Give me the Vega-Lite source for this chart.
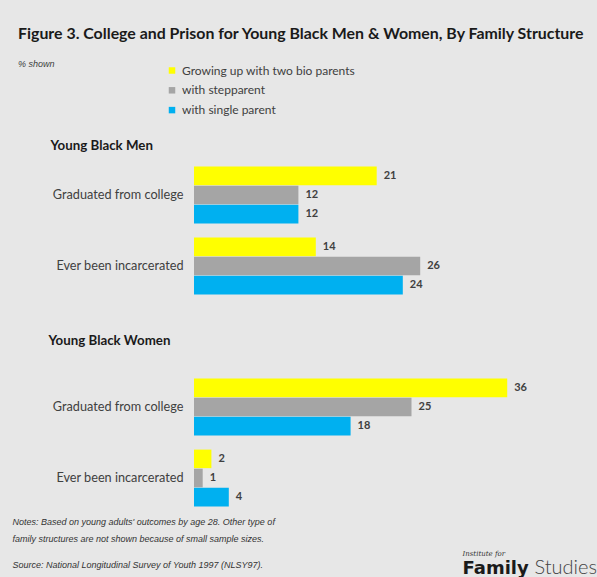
{
  "$schema": "https://vega.github.io/schema/vega-lite/v6.json",
  "background": "#e7e7e7",
  "padding": {"left": 12, "top": 25.5, "right": 0, "bottom": 0},
  "config": {"view": {"stroke": null}, "font": "Lato"},
  "bounds": "flush",
  "spacing": 70,
  "title": {
    "text": "Figure 3. College and Prison for Young Black Men & Women, By Family Structure",
    "subtitle": "% shown",
    "anchor": "start",
    "frame": "group",
    "dx": -176,
    "offset": -4.5,
    "font": "Lato",
    "fontSize": 15.9,
    "fontWeight": "bold",
    "color": "#1a1a1a",
    "subtitleFont": "Liberation Sans",
    "subtitleFontSize": 9,
    "subtitleFontStyle": "italic",
    "subtitleColor": "#404040",
    "subtitlePadding": 18
  },
  "data": {
    "values": [
      {"sex": "Men", "outcome": "Graduated from college", "structure": "Growing up with two bio parents", "value": 21},
      {"sex": "Men", "outcome": "Graduated from college", "structure": "with stepparent", "value": 12},
      {"sex": "Men", "outcome": "Graduated from college", "structure": "with single parent", "value": 12},
      {"sex": "Men", "outcome": "Ever been incarcerated", "structure": "Growing up with two bio parents", "value": 14},
      {"sex": "Men", "outcome": "Ever been incarcerated", "structure": "with stepparent", "value": 26},
      {"sex": "Men", "outcome": "Ever been incarcerated", "structure": "with single parent", "value": 24},
      {"sex": "Women", "outcome": "Graduated from college", "structure": "Growing up with two bio parents", "value": 36},
      {"sex": "Women", "outcome": "Graduated from college", "structure": "with stepparent", "value": 25},
      {"sex": "Women", "outcome": "Graduated from college", "structure": "with single parent", "value": 18},
      {"sex": "Women", "outcome": "Ever been incarcerated", "structure": "Growing up with two bio parents", "value": 2},
      {"sex": "Women", "outcome": "Ever been incarcerated", "structure": "with stepparent", "value": 1},
      {"sex": "Women", "outcome": "Ever been incarcerated", "structure": "with single parent", "value": 4}
    ]
  },
  "resolve": {"legend": {"color": "independent"}},
  "vconcat": [
    {
      "width": 348,
      "height": 142,
      "transform": [{"filter": "datum.sex == 'Men'"}],
      "resolve": {"axis": {"x": "independent", "y": "independent"}},
      "layer": [
        {
          "mark": {"type": "bar"},
          "encoding": {
            "y": {"field": "outcome", "type": "nominal", "sort": ["Graduated from college", "Ever been incarcerated"],
                  "scale": {"paddingInner": 0.2, "paddingOuter": 0.1},
                  "axis": {"ticks": false, "tickSize": 0, "domain": false, "labelPadding": 11, "labelFontSize": 12.7, "labelColor": "#404040", "labelFont": "Lato",
                           "title": "Young Black Men", "titleX": -144, "titleY": -14, "titleAlign": "left", "titleBaseline": "middle", "titleAngle": 0,
                           "titleFont": "Lato", "titleFontSize": 13.3, "titleFontWeight": "bold", "titleColor": "#1a1a1a"}},
            "yOffset": {"field": "structure", "type": "nominal", "sort": ["Growing up with two bio parents", "with stepparent", "with single parent"], "scale": {"paddingInner": 0.03}},
            "x": {"field": "value", "type": "quantitative", "scale": {"domain": [0, 40]},
                  "axis": {"orient": "bottom", "labels": false, "ticks": false, "domain": false, "grid": false,
                           "title": "Institute for", "titleX": 268, "titleY": 252, "titleAlign": "left", "titleBaseline": "middle", "titleAngle": 0,
                           "titleFont": "DejaVu Serif", "titleFontStyle": "italic", "titleFontWeight": "normal", "titleFontSize": 7, "titleColor": "#333333"}},
            "color": {"field": "structure", "type": "nominal",
                      "scale": {"domain": ["Growing up with two bio parents", "with stepparent", "with single parent"], "range": ["#ffff00", "#a5a5a5", "#00b0f0"]},
                      "legend": {"orient": "none", "legendX": -28, "legendY": -95, "title": null, "symbolType": "square", "symbolSize": 42, "symbolStrokeWidth": 0,
                                 "labelFontSize": 12, "labelColor": "#404040", "labelFont": "Lato", "labelOffset": 4, "rowPadding": 7.8, "padding": 0, "labelLimit": 300}}
          }
        },
        {
          "mark": {"type": "text", "align": "left", "dx": 7, "fontSize": 11, "fontWeight": "bold", "color": "#404040", "font": "Lato"},
          "encoding": {
            "y": {"field": "outcome", "type": "nominal", "sort": ["Graduated from college", "Ever been incarcerated"],
                  "axis": {"orient": "right", "labels": false, "ticks": false, "domain": false,
                           "title": "Studies", "titleX": -8, "titleY": 414, "titleAlign": "left", "titleBaseline": "alphabetic", "titleAngle": 0,
                           "titleFont": "Lato", "titleFontWeight": 300, "titleFontSize": 20, "titleColor": "#444444"}},
            "yOffset": {"field": "structure", "type": "nominal", "sort": ["Growing up with two bio parents", "with stepparent", "with single parent"]},
            "x": {"field": "value", "type": "quantitative",
                  "axis": {"orient": "top", "labels": false, "ticks": false, "domain": false, "grid": false,
                           "title": "Family", "titleX": 268, "titleY": 414, "titleAlign": "left", "titleBaseline": "alphabetic", "titleAngle": 0,
                           "titleFont": "DejaVu Sans", "titleFontWeight": "bold", "titleFontSize": 18, "titleColor": "#1a1a1a"}},
            "text": {"field": "value", "type": "quantitative"}
          }
        }
      ]
    },
    {
      "width": 348,
      "height": 142,
      "transform": [{"filter": "datum.sex == 'Women'"}],
      "resolve": {"axis": {"x": "independent", "y": "independent"}},
      "layer": [
        {
          "mark": {"type": "bar"},
          "encoding": {
            "y": {"field": "outcome", "type": "nominal", "sort": ["Graduated from college", "Ever been incarcerated"],
                  "scale": {"paddingInner": 0.2, "paddingOuter": 0.1},
                  "axis": {"ticks": false, "tickSize": 0, "domain": false, "labelPadding": 11, "labelFontSize": 12.7, "labelColor": "#404040", "labelFont": "Lato",
                           "title": "Young Black Women", "titleX": -146, "titleY": -31, "titleAlign": "left", "titleBaseline": "middle", "titleAngle": 0,
                           "titleFont": "Lato", "titleFontSize": 13.3, "titleFontWeight": "bold", "titleColor": "#1a1a1a"}},
            "yOffset": {"field": "structure", "type": "nominal", "sort": ["Growing up with two bio parents", "with stepparent", "with single parent"], "scale": {"paddingInner": 0.03}},
            "x": {"field": "value", "type": "quantitative", "scale": {"domain": [0, 40]},
                  "axis": {"orient": "bottom", "labels": false, "ticks": false, "domain": false, "grid": false,
                           "title": ["Notes: Based on young adults' outcomes by age 28. Other type of", "family structures are not shown because of small sample sizes."],
                           "titleX": -182, "titleY": 4, "titleAlign": "left", "titleBaseline": "top", "titleAngle": 0, "titleLineHeight": 17,
                           "titleFont": "Liberation Sans", "titleFontStyle": "italic", "titleFontWeight": "normal", "titleFontSize": 9, "titleColor": "#333333"}},
            "color": {"field": "structure", "type": "nominal",
                      "scale": {"domain": ["Growing up with two bio parents", "with stepparent", "with single parent"], "range": ["#ffff00", "#a5a5a5", "#00b0f0"]},
                      "legend": null}
          }
        },
        {
          "mark": {"type": "text", "align": "left", "dx": 7, "fontSize": 11, "fontWeight": "bold", "color": "#404040", "font": "Lato"},
          "encoding": {
            "y": {"field": "outcome", "type": "nominal", "sort": ["Graduated from college", "Ever been incarcerated"], "axis": null},
            "yOffset": {"field": "structure", "type": "nominal", "sort": ["Growing up with two bio parents", "with stepparent", "with single parent"]},
            "x": {"field": "value", "type": "quantitative",
                  "axis": {"orient": "top", "labels": false, "ticks": false, "domain": false, "grid": false,
                           "title": "Source: National Longitudinal Survey of Youth 1997 (NLSY97).", "titleX": -182, "titleY": 193, "titleAlign": "left", "titleBaseline": "middle", "titleAngle": 0,
                           "titleFont": "Liberation Sans", "titleFontStyle": "italic", "titleFontWeight": "normal", "titleFontSize": 9, "titleColor": "#333333"}},
            "text": {"field": "value", "type": "quantitative"}
          }
        }
      ]
    }
  ]
}
